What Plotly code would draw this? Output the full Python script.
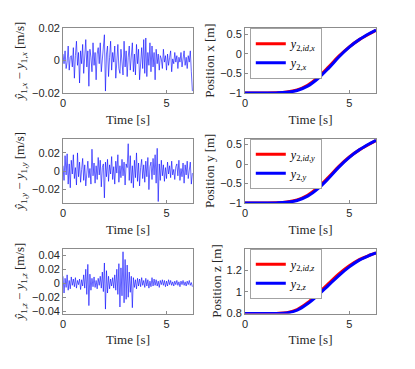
import numpy as np
import plotly.graph_objects as go

# sample times of the error signals [s]
dt = 0.05
# velocity estimation errors, in mm/s
err_x_mms = [4, -2, 6, -5, -1, 9, -6, 2, 3, -4,
             8, -11, 3, 12, -3, 5, -14, 6, -2, 10,
             -8, 1, 13, -4, 6, -16, 7, 2, -7, 11,
             -3, 5, -12, 4, 8, -2, 11, -7, 3, 6,
             16, -19, 4, 9, -10, 2, 12, -6, 5, -1,
             9, -11, 3, 10, -5, -8, 7, 1, -9, 12,
             -4, 6, -10, 2, 9, -6, 1, 11, -7, 4,
             -9, 10, -2, 7, -12, 3, 8, -5, 13, -8,
             14, -10, 5, -3, 11, -7, 9, -4, 5, -12,
             7, -2, 4, -6, 3, 1, -5, 7, -1, 3,
             -6, 4, -3, 2, 6, -7, 1, -2, 5, -1,
             3, -5, 2, -1, 5, -4, 0, 6, -3, 2,
             -5, 3, -1, 6, -7, -19]
err_y_mms = [6, -10, 17, -4, 19, -14, 8, -18, 12, -3,
             18, -8, 4, -15, 20, -6, 10, -12, 2, 14,
             -10, 7, -16, 5, 11, -7, 3, -14, 24, -5,
             9, -13, 6, -9, 15, -4, 12, -17, 4, 8,
             -29, 10, -6, 13, -11, 7, -3, 16, -9, 5,
             -14, 11, -2, 18, -12, 6, -7, 13, -5, 10,
             -15, 8, 4, 30, -10, 17, -13, 6, -18, 12,
             -7, 20, -11, 9, -16, 4, 13, -8, 7, -12,
             11, -6, 15, -20, 5, 10, -9, 14, -4, 18,
             -13, 25, -33, 8, -10, 12, -5, 7, -11, 4,
             -8, 10, -3, 6, -7, 11, -4, 2, -9, 5,
             8, -5, 12, -10, 3, -6, 9, -13, 7, -4,
             11, -8, 4, 10, -14, -2]
err_z_mms = [10, -14, 7, -6, 12, -10, 4, -8, 9, -3,
             6, -5, 8, -7, 4, -2, 6, -9, 5, -4,
             12, -7, 20, -16, 27, -32, 13, -10, 7, -5,
             9, -6, 4, -8, 7, -3, 10, -7, 16, -12,
             29, -37, 18, -14, 10, -8, 6, -4, 8, -7,
             12, -10, 20, -16, 28, -34, 22, -18, 45, -28,
             34, -23, 26, -20, 16, -13, 10, -35, 8, -6,
             5, -8, 7, -4, 6, -5, 8, -3, 4, -6,
             7, -4, 5, -7, 3, -5, 8, -4, 6, -3,
             5, -4, 3, -6, 4, -2, 5, -3, 4, -5,
             3, -4, 5, -2, 4, -3, 2, -4, 3, -2,
             4, -3, 2, -5, 3, -2, 4, -3, 2, -4,
             3, -2, 4, -3, 1, -5]

# positions: ideal (red) vs actual (blue)
t_pos = [0, 0.5, 1.0, 1.5, 2.0, 2.5, 3.0, 3.5, 4.0, 4.5, 5.0, 5.5, 6.0, 6.28]
pos_x_id = [-1, -1, -1, -0.995, -0.975, -0.92, -0.80, -0.60, -0.34, -0.06, 0.18, 0.37, 0.52, 0.6]
pos_x = [-1, -1, -1, -0.997, -0.982, -0.935, -0.825, -0.63, -0.37, -0.08, 0.17, 0.37, 0.53, 0.61]
pos_y_id = [-1, -1, -1, -0.995, -0.975, -0.92, -0.80, -0.60, -0.34, -0.06, 0.18, 0.37, 0.52, 0.6]
pos_y = [-1, -1, -1, -0.997, -0.982, -0.935, -0.825, -0.63, -0.37, -0.08, 0.17, 0.37, 0.53, 0.61]
pos_z_id = [0.8, 0.8, 0.8, 0.801, 0.807, 0.837, 0.9, 0.985, 1.075, 1.165, 1.24, 1.3, 1.34, 1.36]
pos_z = [0.8, 0.8, 0.8, 0.8, 0.804, 0.83, 0.89, 0.97, 1.06, 1.15, 1.23, 1.295, 1.34, 1.36]

W, H = 415, 369
serif = "Liberation Serif"
sans = "Liberation Sans"

fig = go.Figure()

left_x = [63 / W, 193 / W]
right_x = [245 / W, 376 / W]
rows_px = [(28, 93), (138.5, 203), (248.5, 313.5)]

errs = [err_x_mms, err_y_mms, err_z_mms]
err_ranges = [[-0.0202, 0.0202], [-0.0346, 0.0357], [-0.0433, 0.0497]]
err_ticks = [[-0.02, 0, 0.02], [-0.02, 0, 0.02], [-0.04, -0.02, 0, 0.02, 0.04]]
comp = ["x", "y", "z"]
pos_pairs = [(pos_x_id, pos_x), (pos_y_id, pos_y), (pos_z_id, pos_z)]
pos_ranges = [[-1, 0.66], [-1, 0.655], [0.8, 1.40]]
pos_ticks = [[-1, -0.5, 0, 0.5], [-1, -0.5, 0, 0.5], [0.8, 1, 1.2]]

axis_common = dict(
    showline=True, mirror=True, linecolor="#8c8c8c", linewidth=0.8,
    ticks="inside", ticklen=3, tickcolor="#8c8c8c", showgrid=False,
    zeroline=False, automargin=False,
    tickfont=dict(family=sans, size=11, color="#262626"),
)
title_font = dict(family=serif, size=13, color="#262626")

layout = {}
for r in range(3):
    top, bot = rows_px[r]
    ydom = [(H - bot) / H, (H - top) / H]
    c = comp[r]
    e = np.array(errs[r]) / 1000.0
    t = np.arange(len(e)) * dt

    ax_l = 2 * r + 1
    ax_r = 2 * r + 2
    xl, yl = f"x{ax_l}", f"y{ax_l}"
    xr, yr = f"x{ax_r}", f"y{ax_r}"

    fig.add_trace(go.Scatter(x=t, y=e, mode="lines", xaxis=xl, yaxis=yl,
                             line=dict(color="#0000ff", width=0.6), showlegend=False))

    leg = "legend" if r == 0 else f"legend{r + 1}"
    ideal, act = pos_pairs[r]
    fig.add_trace(go.Scatter(x=t_pos, y=ideal, mode="lines", xaxis=xr, yaxis=yr,
                             line=dict(color="#ff0000", width=3, shape="spline"),
                             name=f"<i>y</i><sub>2,<i>id</i>,<i>{c}</i></sub>", legend=leg))
    fig.add_trace(go.Scatter(x=t_pos, y=act, mode="lines", xaxis=xr, yaxis=yr,
                             line=dict(color="#0000ff", width=3, shape="spline"),
                             name=f"<i>y</i><sub>2,<i>{c}</i></sub>", legend=leg))

    sfx_l = "" if ax_l == 1 else str(ax_l)
    sfx_r = str(ax_r)
    layout[f"xaxis{sfx_l}"] = dict(axis_common, domain=left_x, anchor=yl, range=[0, 6.28],
                                   tickvals=[0, 5], title=dict(text="Time [s]", font=title_font, standoff=6))
    layout[f"yaxis{sfx_l}"] = dict(axis_common, domain=ydom, anchor=xl, range=err_ranges[r],
                                   tickvals=err_ticks[r],
                                   title=dict(text=f"<i>ŷ</i><sub>1,<i>{c}</i></sub> − <i>y</i><sub>1,<i>{c}</i></sub> [m/s]",
                                              font=title_font, standoff=4))
    layout[f"xaxis{sfx_r}"] = dict(axis_common, domain=right_x, anchor=yr, range=[0, 6.28],
                                   tickvals=[0, 5], title=dict(text="Time [s]", font=title_font, standoff=6))
    layout[f"yaxis{sfx_r}"] = dict(axis_common, domain=ydom, anchor=xr, range=pos_ranges[r],
                                   tickvals=pos_ticks[r],
                                   title=dict(text=f"Position {c} [m]", font=title_font, standoff=2))
    layout[leg] = dict(x=250 / W, y=(H - top - 0.5) / H, xanchor="left", yanchor="top",
                       bgcolor="white", bordercolor="#8c8c8c", borderwidth=0.8,
                       font=dict(family=serif, size=12, color="#000"),
                       tracegroupgap=0, itemwidth=30)

fig.update_layout(**layout)
fig.update_layout(width=W, height=H, margin=dict(l=0, r=0, t=0, b=0),
                  paper_bgcolor="white", plot_bgcolor="white", showlegend=True)

# drop the default page margin so the figure sits at the window's corner
fig.write_html("out.html", config={"displayModeBar": False},
               post_script="document.body.style.margin = '0px';")
